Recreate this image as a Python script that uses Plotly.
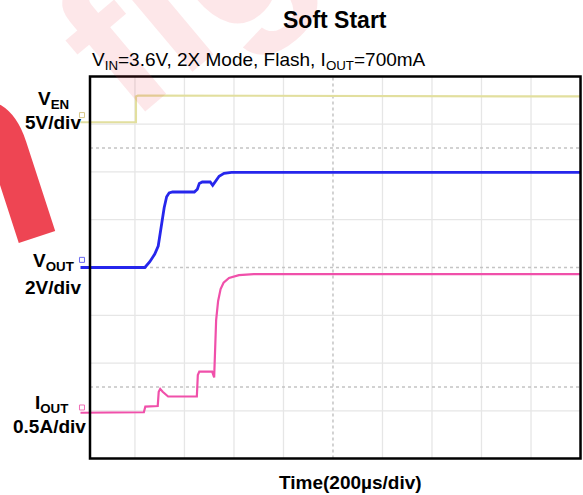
import plotly.graph_objects as go

# time axis in scope divisions (200us/div), levels in vertical divisions
en_t = [-0.1, 1.02, 1.02, 1.06, 10.0]
en_v = [7.04, 7.04, 7.58, 7.6, 7.58]

vout_t = [-0.1, 1.2, 1.3, 1.4, 1.47, 1.53, 1.59, 1.64, 1.69, 1.76, 2.2, 2.26,
          2.3, 2.36, 2.52, 2.57, 2.62, 2.7, 2.8, 2.95, 10.0]
vout_v = [4.0, 4.0, 4.12, 4.28, 4.45, 4.85, 5.25, 5.48, 5.56, 5.58, 5.58, 5.64,
          5.76, 5.79, 5.79, 5.72, 5.79, 5.91, 5.97, 5.99, 5.99]

iout_t = [-0.1, 1.18, 1.21, 1.46, 1.48, 1.51, 1.56, 1.67, 2.25, 2.27, 2.3, 2.56,
          2.6, 2.62, 2.64, 2.68, 2.73, 2.79, 2.9, 3.1, 3.4, 10.0]
iout_v = [0.96, 0.97, 1.09, 1.1, 1.4, 1.46, 1.4, 1.3, 1.3, 1.75, 1.82, 1.82,
          1.7, 2.3, 2.9, 3.3, 3.55, 3.68, 3.78, 3.84, 3.86, 3.86]

# channel ground markers at the left edge
ch_x = [-0.07, -0.07, -0.07]
ch_y = [7.19, 4.16, 1.07]
ch_colors = ["#d8c88a", "#6a6af0", "#f070b8"]

grid_x = [1, 2, 3, 4, 6, 7, 8, 9]
grid_y = [1, 2, 3, 5, 6, 7]
dot_x = [5]
dot_y = [1.5, 4, 6.5]

FONT = "Liberation Sans, Arial, sans-serif"

fig = go.Figure()

fig.add_trace(go.Scatter(x=en_t, y=en_v, mode="lines",
                         line=dict(color="#e2df9e", width=2.2), hoverinfo="skip"))
fig.add_trace(go.Scatter(x=vout_t, y=vout_v, mode="lines",
                         line=dict(color="#2626ec", width=2.8), hoverinfo="skip"))
fig.add_trace(go.Scatter(x=iout_t, y=iout_v, mode="lines",
                         line=dict(color="#f050aa", width=2.2), hoverinfo="skip"))
fig.add_trace(go.Scatter(x=ch_x, y=ch_y, mode="markers", cliponaxis=False,
                         marker=dict(symbol="square-open", size=5, color=ch_colors,
                                     line=dict(width=1)),
                         hoverinfo="skip"))

shapes = []
for gx in grid_x:
    shapes.append(dict(type="line", xref="x", yref="y", x0=gx, x1=gx, y0=0, y1=8,
                       line=dict(color="#e6e6e6", width=1.3), layer="below"))
for gy in grid_y:
    shapes.append(dict(type="line", xref="x", yref="y", x0=0.092, x1=10, y0=gy, y1=gy,
                       line=dict(color="#e6e6e6", width=1.3), layer="below"))
for gx in dot_x:
    shapes.append(dict(type="line", xref="x", yref="y", x0=gx, x1=gx, y0=0, y1=8,
                       line=dict(color="#c4c4c4", width=1.5, dash="dot"), layer="below"))
for gy in dot_y:
    shapes.append(dict(type="line", xref="x", yref="y", x0=0.092, x1=10, y0=gy, y1=gy,
                       line=dict(color="#c4c4c4", width=1.5, dash="dot"), layer="below"))
# scope frame; the axis ranges are padded so none of its sides is clipped
shapes.append(dict(type="rect", xref="x", yref="y", x0=0.092, x1=10, y0=0, y1=8,
                   line=dict(color="black", width=2.5)))

def label(text, x, y, size=19, anchor="center"):
    return dict(text=text, x=x, y=y, xref="paper", yref="paper", showarrow=False,
                xanchor=anchor, yanchor="middle",
                font=dict(family=FONT, size=size, color="black"))

ann = [
    # diagonal watermark from the source page
    dict(text="<b>n</b>", x=-0.239, y=0.777, xref="paper", yref="paper",
         showarrow=False, textangle=-18, xanchor="center", yanchor="middle",
         font=dict(family=FONT, size=280, color="rgba(234,22,40,0.8)")),
    dict(text="<b>fig</b>", x=0.2, y=1.211, xref="paper", yref="paper",
         showarrow=False, textangle=-40, xanchor="center", yanchor="middle",
         font=dict(family=FONT, size=200, color="rgba(240,60,70,0.12)")),
    label("<b>Soft Start</b>", 0.5076, 1.1408, size=23),
    label("V<sub>IN</sub>=3.6V, 2X Mode, Flash, I<sub>OUT</sub>=700mA", 0.0199, 1.0325,
          size=19, anchor="left"),
    label("<b>V<sub>EN</sub></b>", -0.0537, 0.9319),
    label("<b>5V/div</b>", -0.0537, 0.8752),
    label("<b>V<sub>OUT</sub></b>", -0.0537, 0.5142),
    label("<b>2V/div</b>", -0.0537, 0.4471),
    label("<b>I<sub>OUT</sub></b>", -0.0577, 0.148),
    label("<b>0.5A/div</b>", -0.0607, 0.0887),
    label("<b>Time(200µs/div)</b>", 0.5394, -0.0557),
]

# 49.55 px per time division, 47.875 px per vertical division
fig.update_layout(
    width=583,
    height=495,
    margin=dict(l=80, r=0.6, t=73.6, b=33.6),
    paper_bgcolor="white",
    plot_bgcolor="rgba(0,0,0,0)",
    showlegend=False,
    shapes=shapes,
    annotations=ann,
    xaxis=dict(range=[-0.11, 10.03], showgrid=False, zeroline=False,
               showticklabels=False, ticks="", fixedrange=True),
    yaxis=dict(range=[-0.05, 8.05], showgrid=False, zeroline=False,
               showticklabels=False, ticks="", fixedrange=True),
)

# drop the default page margin so the figure sits at the window origin
fig.write_html("out.html", config={"displayModeBar": False},
               post_script="document.body.style.margin='0';document.body.style.overflow='hidden';")
